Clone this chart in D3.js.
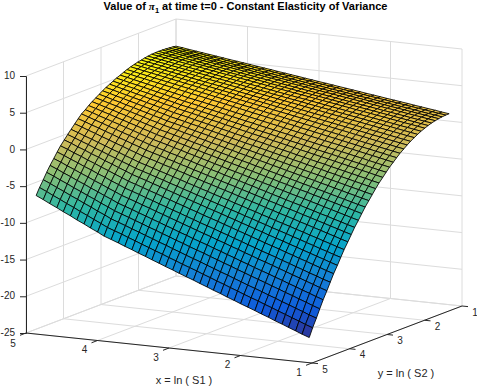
<!DOCTYPE html>
<html>
<head>
<meta charset="utf-8">
<script src="https://cdn.jsdelivr.net/npm/d3@7"></script>
<style>
    html, body { margin: 0; padding: 0; background: #fff; }
    svg { display: block; }
</style>
</head>
<body>
<div id="chart"></div>
<script>
const titleParts = ["Value of ", "π", "1", " at time t=0 - Constant Elasticity of Variance"];
const xLabel = "x = ln ( S1 )";
const yLabel = "y = ln ( S2 )";

const xTicks = [5, 4, 3, 2, 1];
const yTicks = [5, 4, 3, 2, 1];
const zTicks = [-25, -20, -15, -10, -5, 0, 5, 10];

// mesh nodes
const xGrid = [5,4.9,4.81,4.71,4.62,4.52,4.43,4.33,4.24,4.14,4.05,3.95,3.85,3.76,3.66,3.57,3.47,3.38,3.28,3.19,3.09,3,2.9,2.8,2.71,2.61,2.52,2.42,2.33,2.23,2.14,2.04,1.94,1.85,1.75,1.66,1.56,1.47,1.37,1.28,1.18];
const yGrid = [1,1.09,1.19,1.28,1.37,1.47,1.56,1.65,1.75,1.84,1.93,2.03,2.12,2.21,2.31,2.4,2.49,2.59,2.68,2.77,2.87,2.96,3.05,3.14,3.24,3.33,3.42,3.52,3.61,3.7,3.8,3.89,3.98,4.08,4.17,4.26,4.36,4.45,4.54,4.64,4.73];

// one row per yGrid value, one column per xGrid value
const zRows = [
    [6.30,6.17,6.04,5.90,5.77,5.64,5.51,5.37,5.24,5.11,4.98,4.84,4.71,4.58,4.45,4.31,4.18,4.05,3.92,3.78,3.65,3.52,3.39,3.25,3.12,2.99,2.86,2.72,2.59,2.46,2.33,2.19,2.06,1.93,1.80,1.66,1.53,1.40,1.27,1.13,1.00],
    [6.37,6.24,6.10,5.97,5.83,5.70,5.56,5.43,5.29,5.16,5.02,4.89,4.75,4.62,4.49,4.35,4.22,4.08,3.95,3.81,3.68,3.54,3.41,3.27,3.14,3.00,2.87,2.73,2.60,2.47,2.33,2.20,2.06,1.93,1.79,1.66,1.52,1.39,1.25,1.12,0.99],
    [6.42,6.28,6.15,6.01,5.87,5.74,5.60,5.46,5.32,5.19,5.05,4.91,4.78,4.64,4.50,4.37,4.23,4.09,3.95,3.82,3.68,3.54,3.41,3.27,3.13,3.00,2.86,2.72,2.58,2.45,2.31,2.17,2.04,1.90,1.76,1.63,1.49,1.35,1.21,1.08,0.94],
    [6.46,6.32,6.18,6.04,5.90,5.76,5.62,5.48,5.34,5.20,5.06,4.92,4.78,4.64,4.50,4.36,4.22,4.08,3.94,3.80,3.66,3.52,3.38,3.24,3.11,2.97,2.83,2.69,2.55,2.41,2.27,2.13,1.99,1.85,1.71,1.57,1.43,1.29,1.15,1.01,0.87],
    [6.49,6.35,6.20,6.06,5.92,5.78,5.63,5.49,5.35,5.20,5.06,4.92,4.77,4.63,4.49,4.35,4.20,4.06,3.92,3.77,3.63,3.49,3.34,3.20,3.06,2.92,2.77,2.63,2.49,2.34,2.20,2.06,1.91,1.77,1.63,1.49,1.34,1.20,1.06,0.91,0.77],
    [6.50,6.35,6.21,6.06,5.91,5.77,5.62,5.47,5.33,5.18,5.04,4.89,4.74,4.60,4.45,4.30,4.16,4.01,3.86,3.72,3.57,3.42,3.28,3.13,2.98,2.84,2.69,2.54,2.40,2.25,2.10,1.96,1.81,1.66,1.52,1.37,1.23,1.08,0.93,0.79,0.64],
    [6.49,6.34,6.19,6.04,5.89,5.74,5.59,5.44,5.29,5.14,4.99,4.84,4.69,4.54,4.39,4.24,4.09,3.93,3.78,3.63,3.48,3.33,3.18,3.03,2.88,2.73,2.58,2.43,2.28,2.13,1.98,1.83,1.68,1.53,1.38,1.23,1.08,0.93,0.78,0.63,0.48],
    [6.46,6.30,6.15,5.99,5.84,5.68,5.53,5.38,5.22,5.07,4.91,4.76,4.61,4.45,4.30,4.14,3.99,3.84,3.68,3.53,3.37,3.22,3.07,2.91,2.76,2.60,2.45,2.30,2.14,1.99,1.83,1.68,1.52,1.37,1.22,1.06,0.91,0.75,0.60,0.45,0.29],
    [6.39,6.23,6.07,5.92,5.76,5.60,5.44,5.28,5.13,4.97,4.81,4.65,4.49,4.34,4.18,4.02,3.86,3.70,3.55,3.39,3.23,3.07,2.91,2.76,2.60,2.44,2.28,2.12,1.97,1.81,1.65,1.49,1.33,1.18,1.02,0.86,0.70,0.54,0.39,0.23,0.07],
    [6.31,6.14,5.98,5.82,5.66,5.49,5.33,5.17,5.01,4.85,4.68,4.52,4.36,4.20,4.04,3.87,3.71,3.55,3.39,3.22,3.06,2.90,2.74,2.58,2.41,2.25,2.09,1.93,1.77,1.60,1.44,1.28,1.12,0.95,0.79,0.63,0.47,0.31,0.14,-0.02,-0.18],
    [6.20,6.03,5.87,5.70,5.53,5.37,5.20,5.04,4.87,4.70,4.54,4.37,4.20,4.04,3.87,3.71,3.54,3.37,3.21,3.04,2.87,2.71,2.54,2.38,2.21,2.04,1.88,1.71,1.54,1.38,1.21,1.04,0.88,0.71,0.55,0.38,0.21,0.05,-0.12,-0.29,-0.45],
    [6.10,5.92,5.75,5.58,5.41,5.24,5.07,4.90,4.72,4.55,4.38,4.21,4.04,3.87,3.70,3.52,3.35,3.18,3.01,2.84,2.67,2.50,2.33,2.15,1.98,1.81,1.64,1.47,1.30,1.13,0.95,0.78,0.61,0.44,0.27,0.10,-0.07,-0.25,-0.42,-0.59,-0.76],
    [5.97,5.79,5.62,5.44,5.26,5.09,4.91,4.73,4.56,4.38,4.21,4.03,3.85,3.68,3.50,3.32,3.15,2.97,2.79,2.62,2.44,2.26,2.09,1.91,1.73,1.56,1.38,1.20,1.03,0.85,0.68,0.50,0.32,0.15,-0.03,-0.21,-0.38,-0.56,-0.74,-0.91,-1.09],
    [5.83,5.64,5.46,5.28,5.10,4.91,4.73,4.55,4.37,4.19,4.01,3.82,3.64,3.46,3.28,3.10,2.91,2.73,2.55,2.37,2.19,2.00,1.82,1.64,1.46,1.28,1.10,0.91,0.73,0.55,0.37,0.19,0,-0.18,-0.36,-0.54,-0.72,-0.91,-1.09,-1.27,-1.45],
    [5.65,5.46,5.28,5.09,4.90,4.71,4.53,4.34,4.15,3.96,3.78,3.59,3.40,3.21,3.03,2.84,2.65,2.46,2.28,2.09,1.90,1.71,1.53,1.34,1.15,0.96,0.78,0.59,0.40,0.21,0.03,-0.16,-0.35,-0.54,-0.73,-0.91,-1.10,-1.29,-1.48,-1.66,-1.85],
    [5.45,5.26,5.06,4.87,4.68,4.49,4.29,4.10,3.91,3.71,3.52,3.33,3.13,2.94,2.75,2.56,2.36,2.17,1.98,1.78,1.59,1.40,1.20,1.01,0.82,0.63,0.43,0.24,0.05,-0.15,-0.34,-0.53,-0.73,-0.92,-1.11,-1.31,-1.50,-1.69,-1.88,-2.08,-2.27],
    [5.24,5.03,4.82,4.61,4.40,4.19,3.98,3.77,3.56,3.35,3.14,2.95,2.75,2.56,2.36,2.17,1.97,1.78,1.58,1.39,1.19,1.00,0.80,0.61,0.41,0.22,0.02,-0.17,-0.37,-0.56,-0.76,-0.95,-1.15,-1.34,-1.54,-1.73,-1.93,-2.12,-2.32,-2.51,-2.72],
    [5.03,4.81,4.59,4.37,4.16,3.94,3.72,3.50,3.28,3.06,2.85,2.65,2.45,2.24,2.04,1.84,1.64,1.44,1.24,1.04,0.84,0.63,0.43,0.23,0.03,-0.17,-0.37,-0.57,-0.77,-0.98,-1.18,-1.38,-1.58,-1.78,-1.98,-2.18,-2.38,-2.59,-2.79,-2.99,-3.20],
    [4.79,4.56,4.34,4.11,3.88,3.66,3.43,3.20,2.98,2.75,2.52,2.31,2.11,1.90,1.69,1.48,1.27,1.07,0.86,0.65,0.44,0.23,0.03,-0.18,-0.39,-0.60,-0.81,-1.01,-1.22,-1.43,-1.64,-1.85,-2.05,-2.26,-2.47,-2.68,-2.89,-3.09,-3.30,-3.51,-3.71],
    [4.55,4.31,4.07,3.84,3.60,3.37,3.13,2.90,2.66,2.43,2.19,1.98,1.76,1.55,1.33,1.12,0.91,0.69,0.48,0.26,0.05,-0.16,-0.38,-0.59,-0.81,-1.02,-1.23,-1.45,-1.66,-1.88,-2.09,-2.30,-2.52,-2.73,-2.95,-3.16,-3.37,-3.59,-3.80,-4.02,-4.24],
    [4.30,4.05,3.81,3.56,3.32,3.07,2.83,2.58,2.34,2.09,1.85,1.63,1.41,1.18,0.96,0.74,0.52,0.30,0.07,-0.15,-0.37,-0.59,-0.81,-1.04,-1.26,-1.48,-1.70,-1.92,-2.15,-2.37,-2.59,-2.81,-3.03,-3.26,-3.48,-3.70,-3.92,-4.14,-4.37,-4.59,-4.81],
    [4.02,3.77,3.51,3.26,3.00,2.75,2.49,2.24,1.98,1.73,1.47,1.24,1.01,0.78,0.55,0.33,0.10,-0.13,-0.36,-0.59,-0.82,-1.05,-1.28,-1.51,-1.74,-1.97,-2.19,-2.42,-2.65,-2.88,-3.11,-3.34,-3.57,-3.80,-4.03,-4.26,-4.49,-4.72,-4.94,-5.17,-5.40],
    [3.72,3.46,3.19,2.93,2.66,2.40,2.13,1.87,1.60,1.34,1.07,0.83,0.60,0.36,0.12,-0.11,-0.35,-0.59,-0.82,-1.06,-1.30,-1.54,-1.77,-2.01,-2.25,-2.48,-2.72,-2.96,-3.19,-3.43,-3.67,-3.91,-4.14,-4.38,-4.62,-4.85,-5.09,-5.33,-5.56,-5.80,-6.03],
    [3.41,3.13,2.86,2.58,2.31,2.03,1.76,1.48,1.20,0.93,0.65,0.41,0.16,-0.08,-0.33,-0.57,-0.82,-1.06,-1.31,-1.55,-1.80,-2.04,-2.29,-2.53,-2.78,-3.02,-3.27,-3.51,-3.76,-4.00,-4.24,-4.49,-4.73,-4.98,-5.22,-5.47,-5.71,-5.96,-6.20,-6.45,-6.68],
    [3.09,2.80,2.52,2.23,1.94,1.66,1.37,1.08,0.80,0.51,0.23,-0.02,-0.28,-0.53,-0.79,-1.04,-1.29,-1.55,-1.80,-2.05,-2.31,-2.56,-2.81,-3.07,-3.32,-3.57,-3.83,-4.08,-4.33,-4.59,-4.84,-5.09,-5.35,-5.60,-5.85,-6.11,-6.36,-6.61,-6.87,-7.12,-7.36],
    [2.73,2.43,2.13,1.84,1.54,1.24,0.95,0.65,0.35,0.05,-0.25,-0.51,-0.77,-1.03,-1.29,-1.55,-1.81,-2.07,-2.33,-2.59,-2.85,-3.11,-3.37,-3.63,-3.89,-4.15,-4.41,-4.67,-4.93,-5.19,-5.45,-5.71,-5.97,-6.23,-6.49,-6.75,-7.01,-7.27,-7.54,-7.80,-8.08],
    [2.34,2.03,1.72,1.41,1.11,0.80,0.49,0.18,-0.13,-0.44,-0.75,-1.02,-1.28,-1.55,-1.82,-2.09,-2.36,-2.63,-2.90,-3.17,-3.44,-3.71,-3.97,-4.24,-4.51,-4.78,-5.05,-5.32,-5.59,-5.86,-6.13,-6.40,-6.66,-6.93,-7.20,-7.47,-7.74,-8.01,-8.28,-8.55,-8.82],
    [1.96,1.63,1.31,0.99,0.67,0.35,0.03,-0.29,-0.61,-0.93,-1.25,-1.53,-1.81,-2.09,-2.36,-2.64,-2.92,-3.20,-3.48,-3.76,-4.03,-4.31,-4.59,-4.87,-5.15,-5.42,-5.70,-5.98,-6.26,-6.54,-6.81,-7.09,-7.37,-7.65,-7.93,-8.21,-8.48,-8.76,-9.04,-9.32,-9.59],
    [1.48,1.15,0.82,0.49,0.16,-0.18,-0.51,-0.84,-1.17,-1.50,-1.83,-2.12,-2.40,-2.69,-2.97,-3.26,-3.54,-3.83,-4.11,-4.40,-4.68,-4.97,-5.25,-5.54,-5.82,-6.11,-6.39,-6.68,-6.97,-7.25,-7.54,-7.82,-8.11,-8.39,-8.68,-8.96,-9.25,-9.53,-9.82,-10.10,-10.39],
    [0.96,0.62,0.28,-0.06,-0.40,-0.75,-1.09,-1.43,-1.77,-2.11,-2.45,-2.74,-3.03,-3.33,-3.62,-3.91,-4.20,-4.49,-4.79,-5.08,-5.37,-5.66,-5.95,-6.25,-6.54,-6.83,-7.12,-7.41,-7.71,-8.00,-8.29,-8.58,-8.87,-9.17,-9.46,-9.75,-10.04,-10.33,-10.63,-10.92,-11.21],
    [0.40,0.05,-0.30,-0.65,-1.00,-1.36,-1.71,-2.06,-2.41,-2.76,-3.11,-3.41,-3.71,-4.01,-4.31,-4.60,-4.90,-5.20,-5.50,-5.80,-6.10,-6.40,-6.70,-7.00,-7.30,-7.59,-7.89,-8.19,-8.49,-8.79,-9.09,-9.39,-9.69,-9.99,-10.29,-10.58,-10.88,-11.18,-11.48,-11.78,-12.07],
    [-0.13,-0.49,-0.85,-1.21,-1.58,-1.94,-2.30,-2.67,-3.03,-3.39,-3.75,-4.06,-4.37,-4.67,-4.98,-5.29,-5.60,-5.90,-6.21,-6.52,-6.82,-7.13,-7.44,-7.75,-8.05,-8.36,-8.67,-8.97,-9.28,-9.59,-9.90,-10.20,-10.51,-10.82,-11.12,-11.43,-11.74,-12.05,-12.35,-12.66,-12.96],
    [-0.69,-1.06,-1.44,-1.81,-2.19,-2.56,-2.94,-3.31,-3.68,-4.06,-4.43,-4.75,-5.06,-5.37,-5.69,-6.00,-6.32,-6.63,-6.95,-7.26,-7.58,-7.89,-8.20,-8.52,-8.83,-9.15,-9.46,-9.78,-10.09,-10.41,-10.72,-11.03,-11.35,-11.66,-11.98,-12.29,-12.61,-12.92,-13.24,-13.55,-13.87],
    [-1.30,-1.68,-2.07,-2.45,-2.84,-3.22,-3.61,-4.00,-4.38,-4.77,-5.15,-5.47,-5.80,-6.12,-6.44,-6.76,-7.09,-7.41,-7.73,-8.05,-8.37,-8.70,-9.02,-9.34,-9.66,-9.99,-10.31,-10.63,-10.95,-11.28,-11.60,-11.92,-12.24,-12.57,-12.89,-13.21,-13.53,-13.85,-14.18,-14.50,-14.81],
    [-1.96,-2.36,-2.75,-3.15,-3.55,-3.94,-4.34,-4.73,-5.13,-5.53,-5.92,-6.25,-6.58,-6.91,-7.24,-7.57,-7.90,-8.23,-8.56,-8.89,-9.22,-9.55,-9.88,-10.21,-10.54,-10.87,-11.20,-11.53,-11.86,-12.19,-12.52,-12.85,-13.18,-13.51,-13.84,-14.17,-14.50,-14.83,-15.16,-15.49,-15.79],
    [-2.68,-3.08,-3.49,-3.90,-4.30,-4.71,-5.12,-5.52,-5.93,-6.33,-6.74,-7.07,-7.41,-7.74,-8.08,-8.41,-8.75,-9.08,-9.42,-9.75,-10.09,-10.42,-10.76,-11.09,-11.43,-11.76,-12.10,-12.43,-12.77,-13.10,-13.44,-13.77,-14.11,-14.44,-14.78,-15.11,-15.45,-15.78,-16.12,-16.45,-16.79],
    [-3.42,-3.84,-4.25,-4.67,-5.09,-5.50,-5.92,-6.34,-6.75,-7.17,-7.59,-7.93,-8.27,-8.61,-8.95,-9.29,-9.63,-9.97,-10.31,-10.66,-11.00,-11.34,-11.68,-12.02,-12.36,-12.70,-13.04,-13.38,-13.73,-14.07,-14.41,-14.75,-15.09,-15.43,-15.77,-16.11,-16.45,-16.80,-17.14,-17.48,-17.82],
    [-4.19,-4.62,-5.04,-5.47,-5.90,-6.33,-6.75,-7.18,-7.61,-8.04,-8.46,-8.81,-9.16,-9.50,-9.85,-10.20,-10.54,-10.89,-11.24,-11.59,-11.93,-12.28,-12.63,-12.97,-13.32,-13.67,-14.01,-14.36,-14.71,-15.06,-15.40,-15.75,-16.10,-16.44,-16.79,-17.14,-17.48,-17.83,-18.18,-18.53,-18.88],
    [-5.02,-5.46,-5.89,-6.33,-6.77,-7.21,-7.64,-8.08,-8.52,-8.95,-9.39,-9.74,-10.10,-10.45,-10.80,-11.15,-11.51,-11.86,-12.21,-12.57,-12.92,-13.27,-13.63,-13.98,-14.33,-14.69,-15.04,-15.39,-15.74,-16.10,-16.45,-16.80,-17.16,-17.51,-17.86,-18.22,-18.57,-18.92,-19.27,-19.63,-19.97],
    [-5.89,-6.34,-6.78,-7.23,-7.68,-8.12,-8.57,-9.02,-9.46,-9.91,-10.36,-10.72,-11.07,-11.43,-11.79,-12.15,-12.51,-12.86,-13.22,-13.58,-13.94,-14.30,-14.65,-15.01,-15.37,-15.73,-16.09,-16.44,-16.80,-17.16,-17.52,-17.88,-18.23,-18.59,-18.95,-19.31,-19.67,-20.02,-20.38,-20.74,-21.09],
    [-6.80,-7.26,-7.71,-8.17,-8.62,-9.08,-9.54,-9.99,-10.45,-10.90,-11.36,-11.72,-12.09,-12.45,-12.81,-13.18,-13.54,-13.90,-14.27,-14.63,-14.99,-15.35,-15.72,-16.08,-16.44,-16.81,-17.17,-17.53,-17.90,-18.26,-18.62,-18.98,-19.35,-19.71,-20.07,-20.44,-20.80,-21.16,-21.53,-21.89,-22.24]
];

const parula = ["#352a87", "#0f5cdd", "#1481d6", "#06a4ca", "#2eb7a4", "#87bf77", "#d1bb59", "#fec832", "#f9fb0e"];

const width = 477, height = 387;

const svg = d3.select("#chart").append("svg")
    .attr("width", width)
    .attr("height", height)
    .style("font-family", "'Liberation Sans', Arial, sans-serif");

// oblique projection of the box: each data axis gets a screen x and screen y scale
const xToPx = d3.scaleLinear().domain([5, 1]).range([0, 286]);
const xToPy = d3.scaleLinear().domain([5, 1]).range([0, 30]);
const yToPx = d3.scaleLinear().domain([5, 1]).range([0, 150]);
const yToPy = d3.scaleLinear().domain([5, 1]).range([0, -57]);
const zToPy = d3.scaleLinear().domain([-25, 10]).range([333, 76]);

const px = (x, y) => 26 + xToPx(x) + yToPx(y);
const py = (x, y, z) => zToPy(z) + xToPy(x) + yToPy(y);

const [xHi, xLo] = d3.extent(xTicks).reverse();
const [yHi, yLo] = d3.extent(yTicks).reverse();
const [zLo, zHi] = d3.extent(zTicks);

const gridColor = "#dcdcdc", axisColor = "#262626";

// grid on floor and back walls
const gridLines = [];
yTicks.forEach(y => {
    gridLines.push([[xHi, y, zLo], [xLo, y, zLo]]);
    gridLines.push([[xHi, y, zLo], [xHi, y, zHi]]);
});
xTicks.forEach(x => {
    gridLines.push([[x, yHi, zLo], [x, yLo, zLo]]);
    gridLines.push([[x, yLo, zLo], [x, yLo, zHi]]);
});
zTicks.forEach(z => {
    gridLines.push([[xHi, yHi, z], [xHi, yLo, z]]);
    gridLines.push([[xHi, yLo, z], [xLo, yLo, z]]);
});

svg.append("g").selectAll("line")
    .data(gridLines)
    .join("line")
    .attr("x1", d => px(d[0][0], d[0][1]))
    .attr("y1", d => py(d[0][0], d[0][1], d[0][2]))
    .attr("x2", d => px(d[1][0], d[1][1]))
    .attr("y2", d => py(d[1][0], d[1][1], d[1][2]))
    .attr("stroke", gridColor)
    .attr("stroke-width", 1);

// surface cells, painted from the back corner to the front
const zAll = zRows.flat();
const color = d3.scaleLinear()
    .domain(d3.range(parula.length).map(i => d3.min(zAll) + i / (parula.length - 1) * (d3.max(zAll) - d3.min(zAll))))
    .range(parula);

const cells = [];
yGrid.slice(0, -1).forEach((_, j) => {
    xGrid.slice(0, -1).forEach((_, i) => {
        cells.push({i, j});
    });
});

const node = (i, j) => [px(xGrid[i], yGrid[j]), py(xGrid[i], yGrid[j], zRows[j][i])];

svg.append("g").selectAll("path")
    .data(cells)
    .join("path")
    .attr("d", d => d3.line()([node(d.i, d.j), node(d.i + 1, d.j), node(d.i + 1, d.j + 1), node(d.i, d.j + 1)]) + "Z")
    .attr("fill", d => color(zRows[d.j][d.i + 1]))
    .attr("stroke", "#000")
    .attr("stroke-width", 0.85);

// z axis
svg.append("g")
    .attr("transform", "translate(26,0)")
    .call(d3.axisLeft(zToPy).tickValues(zTicks).tickFormat(d => d).tickSizeOuter(0).tickSize(6).tickPadding(5))
    .call(g => g.selectAll("text").style("font-size", "10px").attr("fill", axisColor).attr("dy", "0.27em"))
    .call(g => g.selectAll("line,path").attr("stroke", axisColor))
    .attr("font-family", null);

// x and y axes on the floor
const axisLines = [
    [[xHi, yHi], [xLo, yHi]],
    [[xLo, yHi], [xLo, yLo]]
];
svg.append("g").selectAll("line")
    .data(axisLines)
    .join("line")
    .attr("x1", d => px(d[0][0], d[0][1]))
    .attr("y1", d => py(d[0][0], d[0][1], zLo))
    .attr("x2", d => px(d[1][0], d[1][1]))
    .attr("y2", d => py(d[1][0], d[1][1], zLo))
    .attr("stroke", axisColor);

svg.append("g").selectAll("line")
    .data(xTicks)
    .join("line")
    .attr("x1", d => px(d, yHi))
    .attr("y1", d => py(d, yHi, zLo))
    .attr("x2", d => px(d, yHi) - 6)
    .attr("y2", d => py(d, yHi, zLo) + 2.3)
    .attr("stroke", axisColor);

svg.append("g").selectAll("line")
    .data(yTicks)
    .join("line")
    .attr("x1", d => px(xLo, d))
    .attr("y1", d => py(xLo, d, zLo))
    .attr("x2", d => px(xLo, d) + 6)
    .attr("y2", d => py(xLo, d, zLo) + 0.6)
    .attr("stroke", axisColor);

svg.append("g").selectAll("text")
    .data(xTicks)
    .join("text")
    .attr("x", d => px(d, yHi) - 13)
    .attr("y", d => py(d, yHi, zLo) + (d === xHi ? 14 : 12.5))
    .attr("text-anchor", "middle")
    .attr("font-size", 10)
    .attr("fill", axisColor)
    .text(d => d);

svg.append("g").selectAll("text")
    .data(yTicks)
    .join("text")
    .attr("x", d => px(xLo, d) + 13)
    .attr("y", d => py(xLo, d, zLo) + 9.5)
    .attr("text-anchor", "middle")
    .attr("font-size", 10)
    .attr("fill", axisColor)
    .text(d => d);

// axis labels
svg.append("text")
    .attr("x", 184).attr("y", 384)
    .attr("text-anchor", "middle")
    .attr("font-size", 11)
    .attr("fill", axisColor)
    .text(xLabel);

svg.append("text")
    .attr("x", 406).attr("y", 377)
    .attr("text-anchor", "middle")
    .attr("font-size", 11)
    .attr("fill", axisColor)
    .text(yLabel);

// title with the pi and its subscript
const title = svg.append("text")
    .attr("x", 245.5).attr("y", 10)
    .attr("text-anchor", "middle")
    .attr("font-size", 11)
    .attr("font-weight", "bold")
    .attr("fill", "#000");
title.append("tspan").text(titleParts[0]);
title.append("tspan").attr("font-family", "'Liberation Serif', serif").attr("font-style", "italic").text(titleParts[1]);
title.append("tspan").attr("dy", 3).attr("font-size", 7.5).text(titleParts[2]);
title.append("tspan").attr("dy", -3).text(titleParts[3]);
</script>
</body>
</html>
